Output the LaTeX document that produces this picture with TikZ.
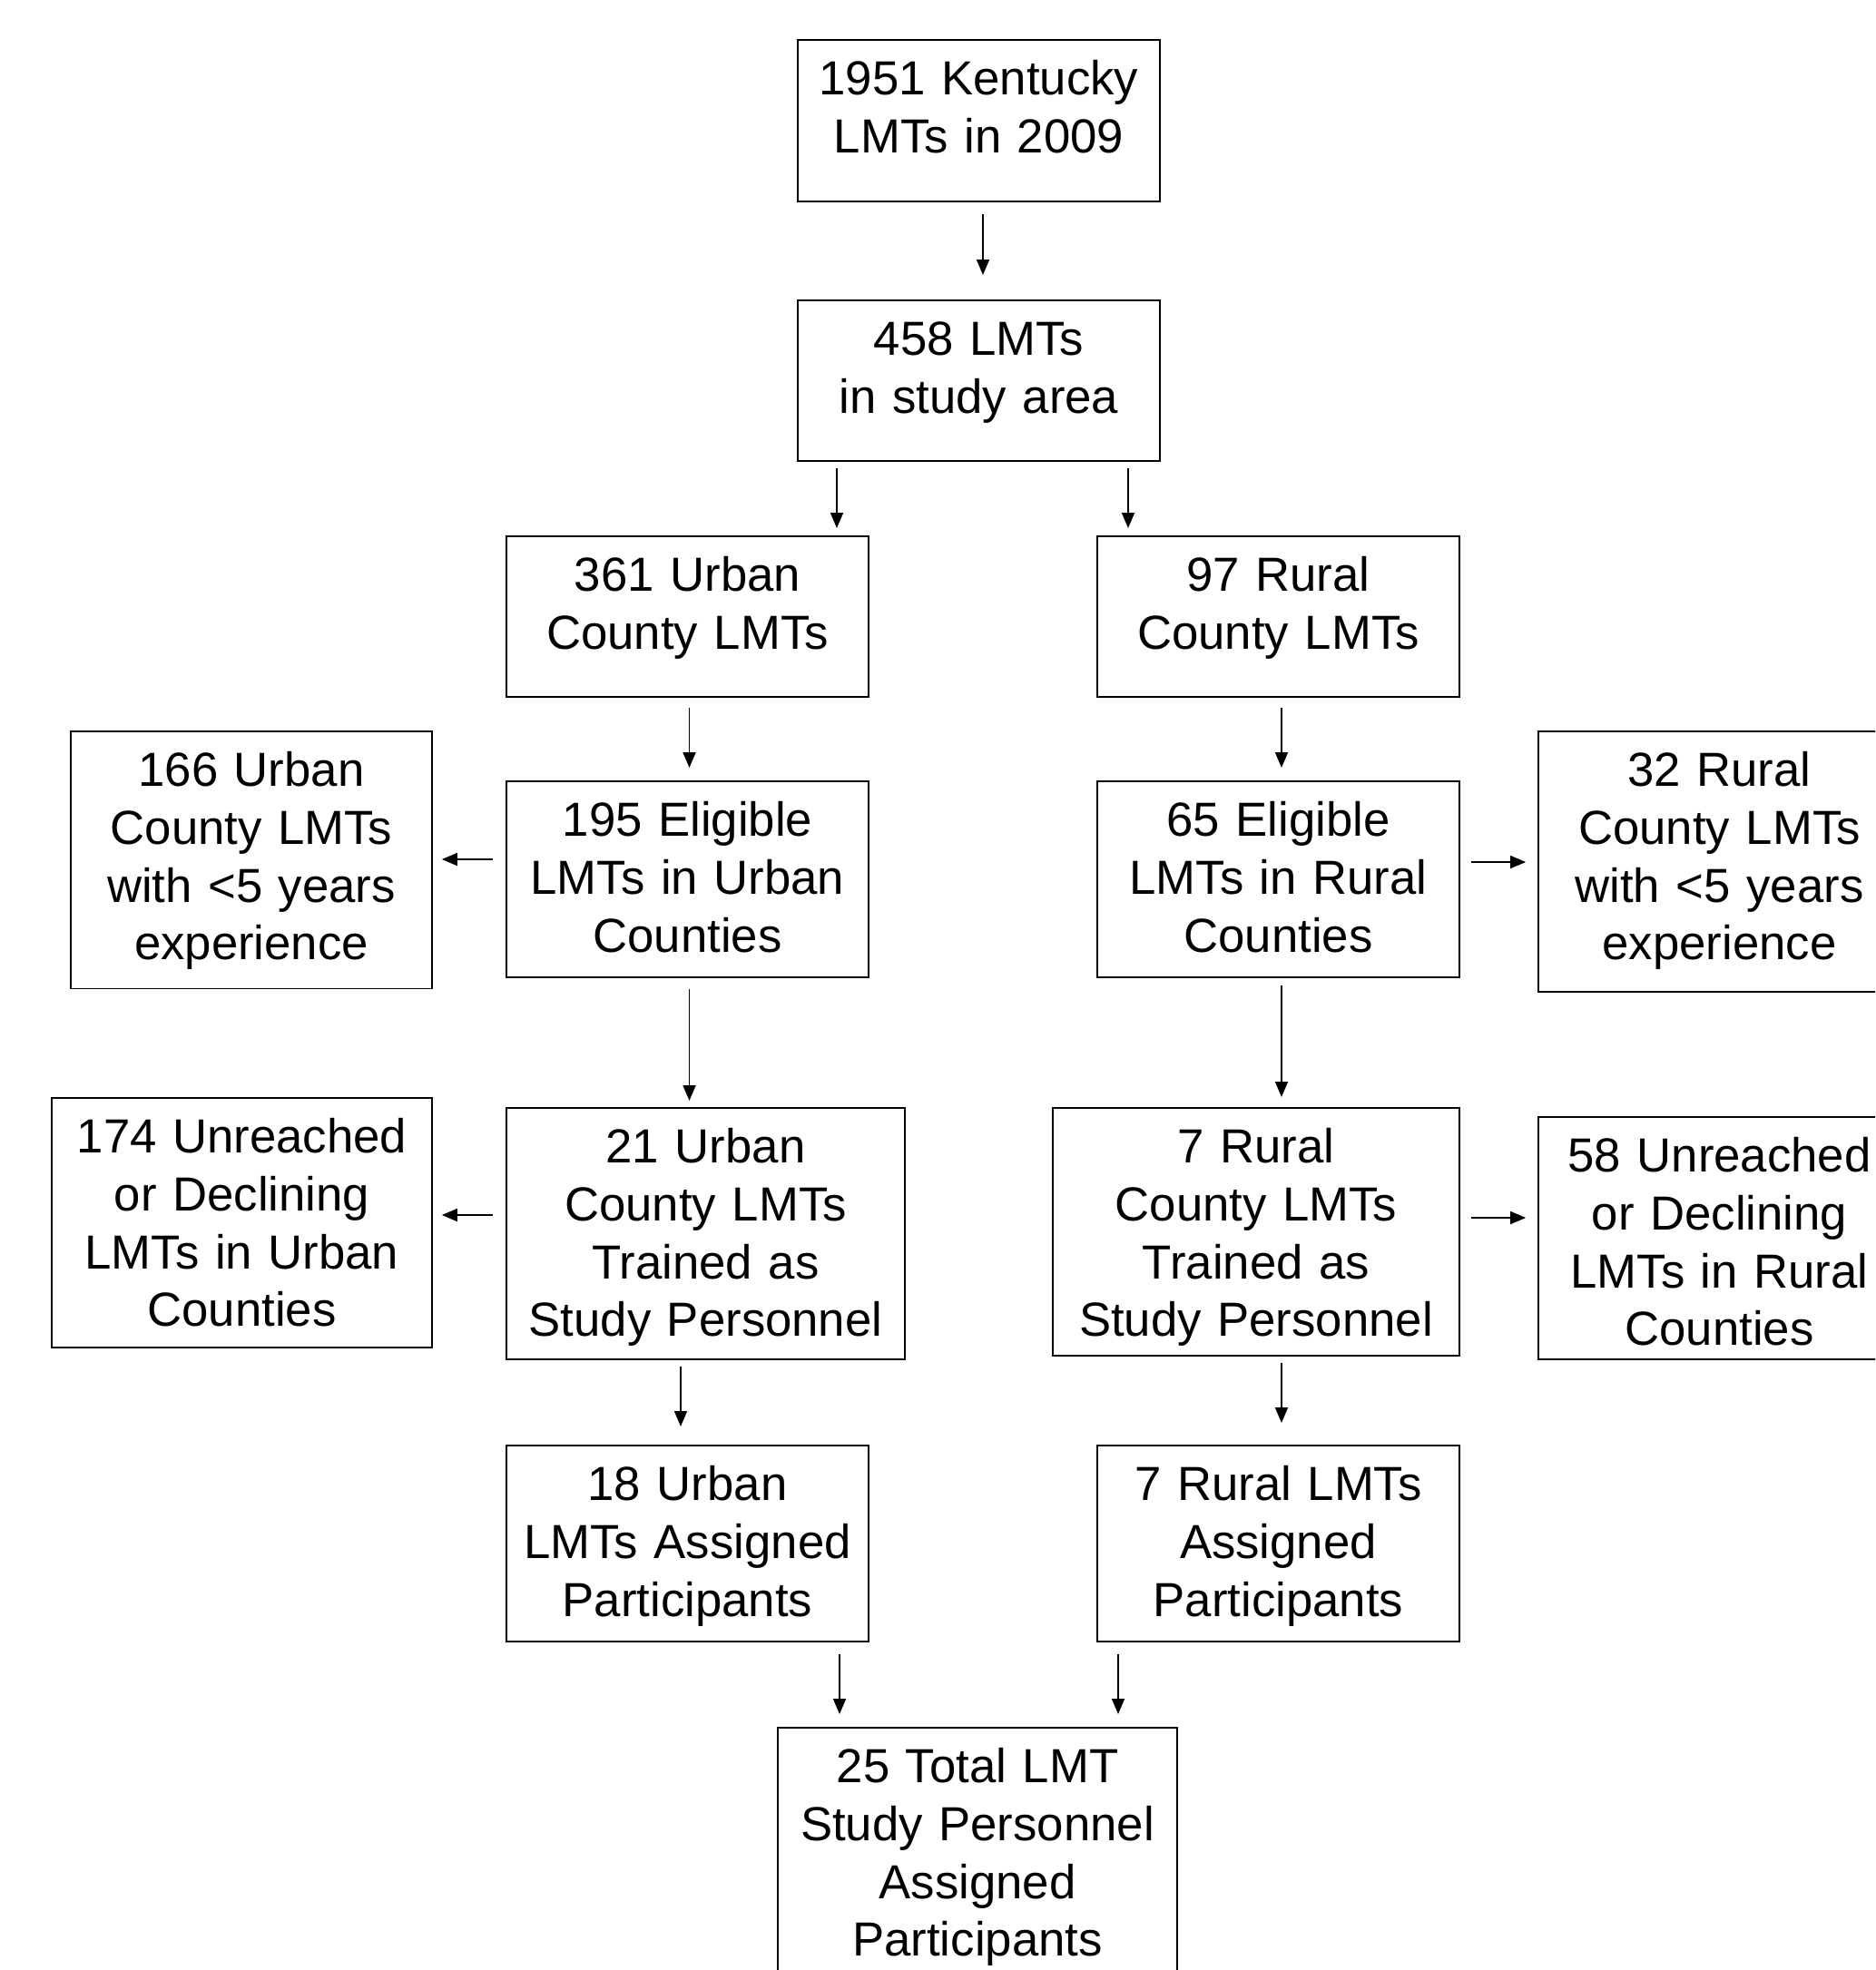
\documentclass[tikz,border=0pt]{standalone}
\usepackage{fontspec}
\setmainfont{Liberation Sans}
\usetikzlibrary{arrows.meta}

\tikzset{flowbox/.style={draw,line width=0.5pt,inner sep=0pt,align=center,anchor=north,
    text height=0.61cm,font=\fontsize{15pt}{18.1pt}\selectfont},
  flowarrow/.style={-{Triangle[length=0.17cm,width=0.14cm]},line width=0.5pt}}

\begin{document}
\begin{tikzpicture}
        % page frame
        \useasboundingbox (0,0) rectangle (20.66,-21.71);
        \clip (0,0) rectangle (20.66,-21.71);
        % the boxes
        \node[flowbox,text width=3.99cm,text depth=1.17cm] (kentucky) at (10.785,-0.43) {1951 Kentucky\\LMTs in 2009};
        \node[flowbox,text width=3.99cm,text depth=1.16cm] (studyarea) at (10.785,-3.30) {458 LMTs\\in study area};
        \node[flowbox,text width=3.99cm,text depth=1.16cm] (urban361) at (7.575,-5.90) {361 Urban\\County LMTs};
        \node[flowbox,text width=3.99cm,text depth=1.16cm] (rural97) at (14.085,-5.90) {97 Rural\\County LMTs};
        \node[flowbox,text width=3.98cm,text depth=2.225cm] (urban166) at (2.77,-8.05) {166 Urban\\County LMTs\\with <5 years\\experience};
        \node[flowbox,text width=3.99cm,text depth=1.55cm] (eligible195) at (7.575,-8.60) {195 Eligible\\LMTs in Urban\\Counties};
        \node[flowbox,text width=3.99cm,text depth=1.55cm] (eligible65) at (14.085,-8.60) {65 Eligible\\LMTs in Rural\\Counties};
        \node[flowbox,text width=3.99cm,text depth=2.26cm] (rural32) at (18.945,-8.05) {32 Rural\\County LMTs\\with <5 years\\experience};
        \node[flowbox,text width=4.19cm,text depth=2.14cm] (unreached174) at (2.665,-12.09) {174 Unreached\\or Declining\\LMTs in Urban\\Counties};
        \node[flowbox,text width=4.39cm,text depth=2.16cm] (trained21) at (7.775,-12.20) {21 Urban\\County LMTs\\Trained as\\Study Personnel};
        \node[flowbox,text width=4.48cm,text depth=2.12cm] (trained7) at (13.84,-12.20) {7 Rural\\County LMTs\\Trained as\\Study Personnel};
        \node[flowbox,text width=3.99cm,text depth=2.06cm] (unreached58) at (18.945,-12.30) {58 Unreached\\or Declining\\LMTs in Rural\\Counties};
        \node[flowbox,text width=3.99cm,text depth=1.55cm] (urban18) at (7.575,-15.92) {18 Urban\\LMTs Assigned\\Participants};
        \node[flowbox,text width=3.99cm,text depth=1.55cm] (rural7) at (14.085,-15.92) {7 Rural LMTs\\Assigned\\Participants};
        \node[flowbox,text width=4.40cm,text depth=2.39cm] (total25) at (10.77,-19.03) {25 Total LMT\\Study Personnel\\Assigned\\Participants};
        % columns and rows of the arrows
        \coordinate (c1) at (10.83,0);
        \coordinate (c2) at (9.22,0);
        \coordinate (c3) at (12.43,0);
        \coordinate (c4) at (7.595,0);
        \coordinate (c5) at (14.12,0);
        \coordinate (c6) at (7.50,0);
        \coordinate (c7) at (9.25,0);
        \coordinate (c8) at (12.32,0);
        \coordinate (r1) at (0,-9.47);
        \coordinate (r2) at (0,-9.50);
        \coordinate (r3) at (0,-13.39);
        \coordinate (r4) at (0,-13.42);
        % draw the arrows
        \draw[flowarrow,shorten <=0.13cm,shorten >=0.27cm] (kentucky.south -| c1) -- (studyarea.north -| c1);
        \draw[flowarrow,shorten <=0.07cm,shorten >=0.08cm] (studyarea.south -| c2) -- (urban361.north -| c2);
        \draw[flowarrow,shorten <=0.07cm,shorten >=0.08cm] (studyarea.south -| c3) -- (rural97.north -| c3);
        \draw[flowarrow,shorten <=0.11cm,shorten >=0.14cm] (urban361.south -| c4) -- (eligible195.north -| c4);
        \draw[flowarrow,shorten <=0.11cm,shorten >=0.14cm] (rural97.south -| c5) -- (eligible65.north -| c5);
        \draw[flowarrow,shorten <=0.14cm,shorten >=0.10cm] (eligible195.west |- r1) -- (urban166.east |- r1);
        \draw[flowarrow,shorten <=0.12cm,shorten >=0.13cm] (eligible65.east |- r2) -- (rural32.west |- r2);
        \draw[flowarrow,shorten <=0.12cm,shorten >=0.07cm] (eligible195.south -| c4) -- (trained21.north -| c4);
        \draw[flowarrow,shorten <=0.08cm,shorten >=0.11cm] (eligible65.south -| c5) -- (trained7.north -| c5);
        \draw[flowarrow,shorten <=0.14cm,shorten >=0.10cm] (trained21.west |- r3) -- (unreached174.east |- r3);
        \draw[flowarrow,shorten <=0.12cm,shorten >=0.13cm] (trained7.east |- r4) -- (unreached58.west |- r4);
        \draw[flowarrow,shorten <=0.07cm,shorten >=0.20cm] (trained21.south -| c6) -- (urban18.north -| c6);
        \draw[flowarrow,shorten <=0.07cm,shorten >=0.24cm] (trained7.south -| c5) -- (rural7.north -| c5);
        \draw[flowarrow,shorten <=0.13cm,shorten >=0.14cm] (urban18.south -| c7) -- (total25.north -| c7);
        \draw[flowarrow,shorten <=0.13cm,shorten >=0.14cm] (rural7.south -| c8) -- (total25.north -| c8);
    \end{tikzpicture}
\end{document}
